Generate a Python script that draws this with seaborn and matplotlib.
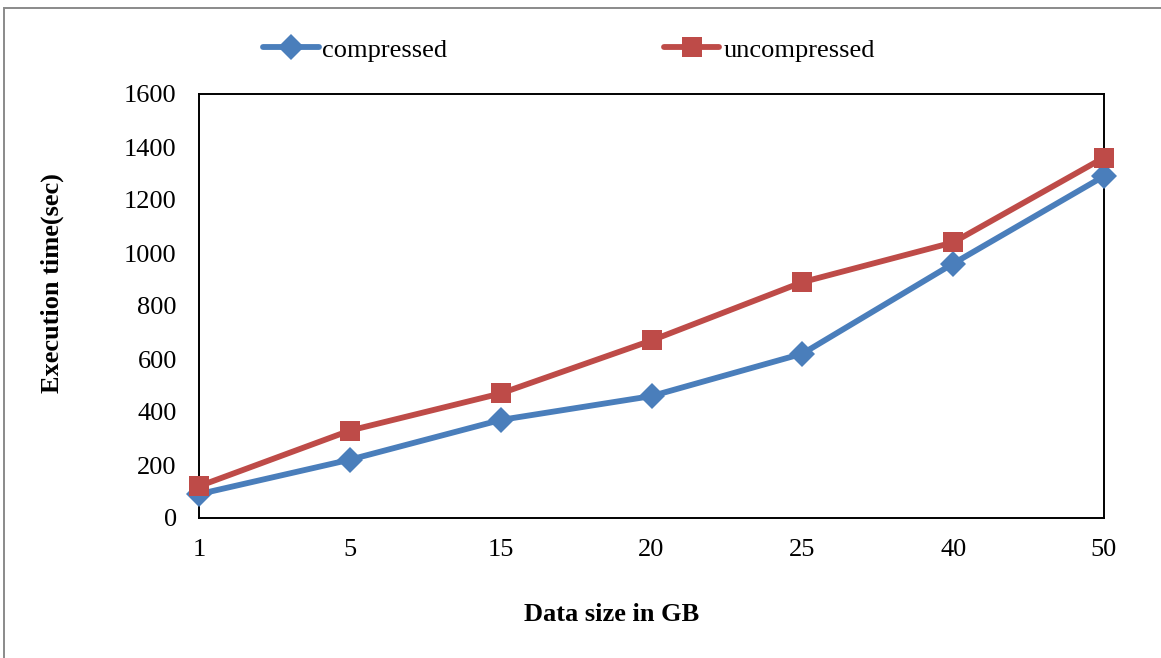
import matplotlib
matplotlib.use("Agg")
import matplotlib.pyplot as plt
from matplotlib.patches import Rectangle
from matplotlib.lines import Line2D
import seaborn as sns
import pandas as pd

# Data sizes (GB) and execution times (sec)
sizes = ["1", "5", "15", "20", "25", "40", "50"]
compressed = [90, 220, 370, 460, 620, 960, 1290]
uncompressed = [120, 330, 470, 670, 890, 1040, 1360]
series_names = ["compressed", "uncompressed"]

df = pd.concat([
    pd.DataFrame({"size": sizes, "time": compressed, "series": series_names[0]}),
    pd.DataFrame({"size": sizes, "time": uncompressed, "series": series_names[1]}),
])

sns.set_theme(style="white")
plt.rcParams["font.family"] = ["Liberation Serif", "DejaVu Serif"]
plt.rcParams.update({"text.color": "black", "axes.labelcolor": "black",
                     "xtick.color": "black", "ytick.color": "black"})

FS = 19
LW = 4.2
colors = {"compressed": "#4A7EBB", "uncompressed": "#BE4B48"}
markers = {"compressed": "D", "uncompressed": "s"}
msize = {"compressed": 13, "uncompressed": 14}

fig = plt.figure(figsize=(11.61, 6.58), dpi=100)
ax = fig.add_axes([199 / 1161, 1 - 518 / 658, (1104 - 199) / 1161, (518 - 94) / 658])

for name in series_names:
    sub = df[df["series"] == name]
    sns.lineplot(data=sub, x="size", y="time", ax=ax, color=colors[name],
                 marker=markers[name], markersize=msize[name],
                 markeredgewidth=0, linewidth=LW, sort=False,
                 legend=False, clip_on=False, zorder=3)

ax.set_xlim(0, len(sizes) - 1)
ax.set_ylim(0, 1600)
ax.set_yticks(range(0, 1601, 200))
ax.tick_params(axis="both", length=0, labelsize=FS)
ax.tick_params(axis="y", pad=16)
ax.tick_params(axis="x", pad=15)
for s in ax.spines.values():
    s.set_visible(True)
    s.set_color("black")
    s.set_linewidth(1.4)

ax.set_xlabel("Data size in GB", fontsize=FS, fontweight="bold")
ax.set_ylabel("Execution time(sec)", fontsize=FS, fontweight="bold")
ax.xaxis.set_label_coords((612 - 199) / 905, (518 - 603) / 424)
ax.yaxis.set_label_coords((64 - 199) / 905, (518 - 283) / 424)

# legend along the top
handles = [Line2D([0], [0], color=colors[n], marker=markers[n],
                  markersize=msize[n], markeredgewidth=0, linewidth=LW)
           for n in series_names]
fig.legend(handles, series_names, loc="center", bbox_to_anchor=(569 / 1161, 1 - 50 / 658),
           ncol=2, frameon=False, fontsize=FS, handlelength=2.1, handletextpad=0.15,
           columnspacing=8.2)

# outer chart border
fig.patches.append(Rectangle((3.5 / 1161, -0.5), 2, 1.5 - 7.5 / 658, fill=False,
                             edgecolor="#8a8a8a", linewidth=1.4,
                             transform=fig.transFigure, figure=fig))

fig.savefig("out.png", dpi=100)
